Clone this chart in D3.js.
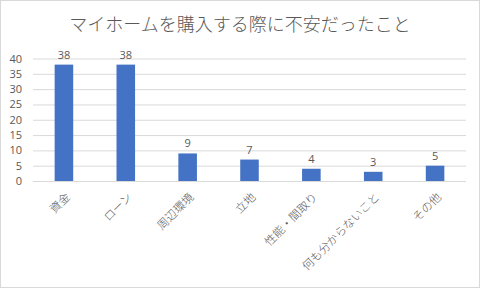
<!DOCTYPE html>
<html>
<head>
<meta charset="utf-8">
<script src="https://cdn.jsdelivr.net/npm/d3@7"></script>
<style>
  body { margin: 0; background: #fff; }
  text { font-family: "Noto Sans CJK JP", "Noto Sans", sans-serif; fill: #595959; }
</style>
</head>
<body>
<svg id="svg" width="481" height="289"></svg>
<script>
const categories = ["資金", "ローン", "周辺環境", "立地", "性能・間取り", "何も分からないこと", "その他"];
const values = [38, 38, 9, 7, 4, 3, 5];
const yTicks = [0, 5, 10, 15, 20, 25, 30, 35, 40];
const title = "マイホームを購入する際に不安だったこと";

var svg = d3.select("#svg"),
    margin = { top: 58.5, right: 15, bottom: 108, left: 33 },
    width = 481 - margin.left - margin.right,
    height = 289 - margin.top - margin.bottom;

// chart border
svg.append("rect")
    .attr("x", 0.5).attr("y", 0.5)
    .attr("width", 479).attr("height", 287)
    .attr("fill", "#fff")
    .attr("stroke", "#d9d9d9");

svg.append("text")
    .attr("x", 240)
    .attr("y", 31)
    .attr("text-anchor", "middle")
    .style("font-size", "18px")
    .style("font-weight", 300)
    .text(title);

var x = d3.scaleBand().domain(categories).range([0, width]).paddingInner(0.7).paddingOuter(0.35);
var y = d3.scaleLinear().domain([0, 40]).range([height, 0]);

var g = svg.append("g")
    .attr("transform", "translate(" + margin.left + "," + margin.top + ")");

// grid
g.append("g")
    .selectAll("line")
    .data(yTicks)
    .join("line")
    .attr("x1", 0).attr("x2", width)
    .attr("y1", d => y(d) + 0.5).attr("y2", d => y(d) + 0.5)
    .attr("stroke", "#d9d9d9");

var yAxis = g.append("g")
    .call(d3.axisLeft(y).tickValues(yTicks).tickSize(0).tickPadding(11));
yAxis.select(".domain").remove();
yAxis.selectAll("text")
    .style("font-size", "11px")
    .style("font-family", "'Open Sans', sans-serif")
    .style("fill", "#595959");

g.selectAll(".bar")
    .data(values)
    .join("rect")
    .attr("class", "bar")
    .attr("x", (d, i) => x(categories[i]))
    .attr("width", x.bandwidth())
    .attr("y", d => y(d))
    .attr("height", d => height - y(d))
    .attr("fill", "#4472c4");

g.selectAll(".lbl")
    .data(values)
    .join("text")
    .attr("class", "lbl")
    .attr("x", (d, i) => x(categories[i]) + x.bandwidth() / 2)
    .attr("y", d => y(d) - 6)
    .attr("text-anchor", "middle")
    .style("font-size", "11px")
    .style("font-family", "'Open Sans', sans-serif")
    .text(d => d);

// rotated category labels
g.selectAll(".cat")
    .data(categories)
    .join("text")
    .attr("class", "cat")
    .attr("text-anchor", "end")
    .attr("transform", d => "translate(" + (x(d) + x.bandwidth() / 2 + 4) + "," + (height + 14) + ") rotate(-45)")
    .attr("dy", "0.35em")
    .style("font-size", "11.5px")
    .style("font-weight", 300)
    .text(d => d);
</script>
</body>
</html>
